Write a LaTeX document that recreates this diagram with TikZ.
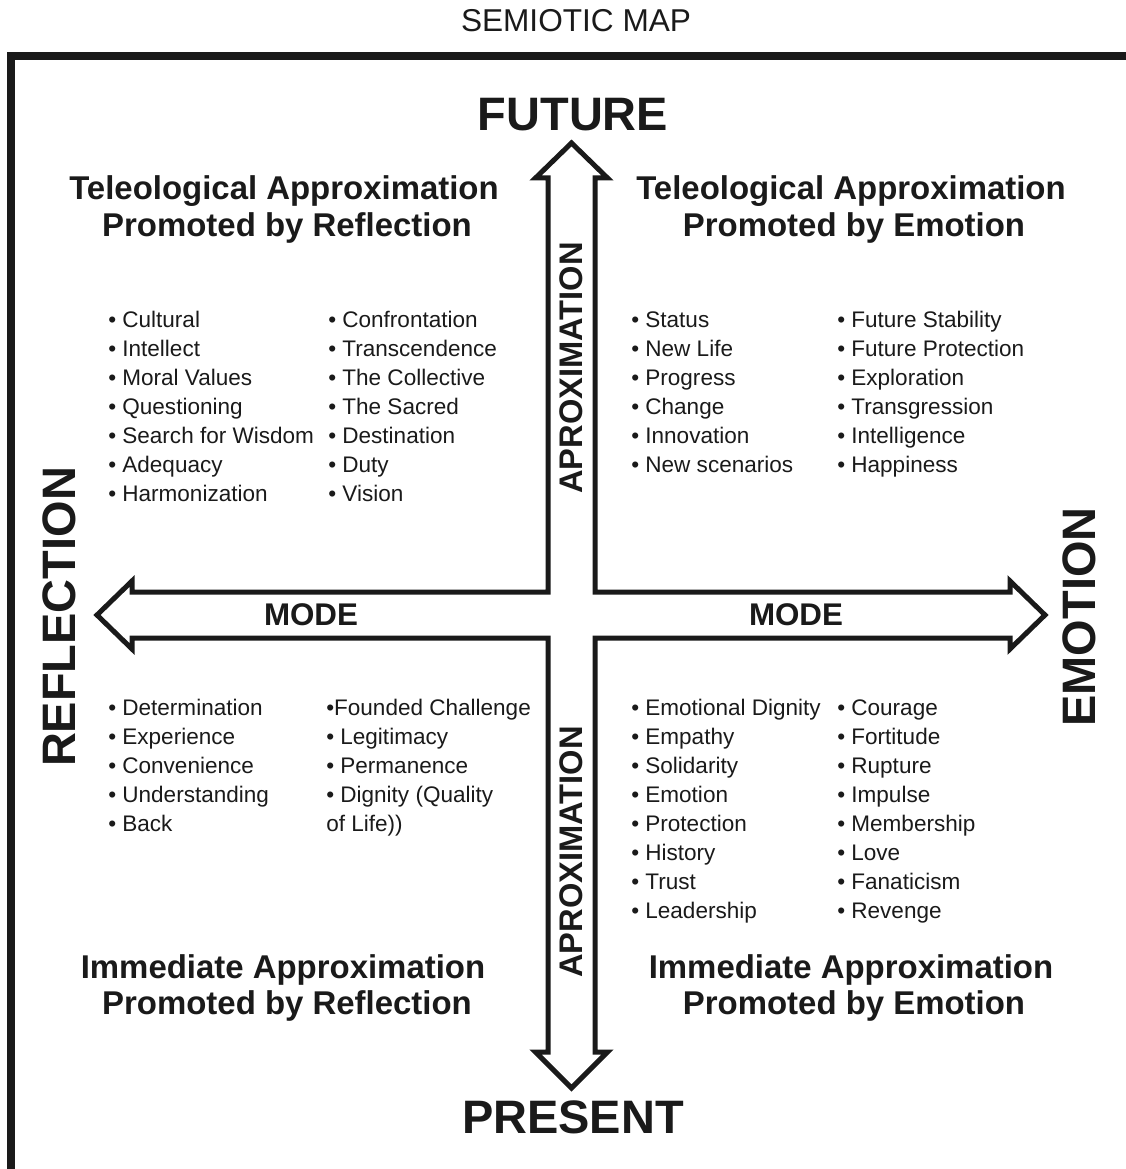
\documentclass[tikz,border=0pt]{standalone}
\usepackage{fontspec}
\setmainfont{Liberation Sans}
\definecolor{ink}{HTML}{1A1A1A}
\begin{document}
\begin{tikzpicture}[x=0.75pt,y=-0.75pt,
  head/.style={font=\fontsize{24.7}{30}\selectfont\bfseries,text=ink,inner sep=0,anchor=base},
  pole/.style={font=\fontsize{35.2}{40}\selectfont\bfseries,text=ink,inner sep=0},
  modelbl/.style={font=\fontsize{23.5}{28}\selectfont\bfseries,text=ink,inner sep=0},
  axislbl/.style={font=\fontsize{24.5}{28}\selectfont\bfseries,text=ink,inner sep=0,rotate=90},
  item/.style={font=\fontsize{16.9}{20}\selectfont,text=ink,inner sep=0,anchor=base west},
  titlelbl/.style={font=\fontsize{23.7}{28}\selectfont,text=ink,inner sep=0},
  framepen/.style={draw=ink,line width=6pt},
  arrowpen/.style={draw=ink,line width=3.75pt,line join=miter}]
\useasboundingbox (0,0) rectangle (1126,1169);
\clip (0,0) rectangle (1126,1169);
\fill[white] (0,0) rectangle (1126,1169);
% frame
\draw[framepen] (11,1190) -- (11,56) -- (1150,56);
% title
\node[titlelbl] (title) at (576,21) {SEMIOTIC MAP};
% cross-shaped double arrow
\draw[arrowpen] (571.5,143) -- (607.5,178) -- (595,178) -- (595,592) -- (1010,592) -- (1010,581)
  -- (1045,615) -- (1010,649) -- (1010,638) -- (595,638) -- (595,1052) -- (607.5,1052)
  -- (571.5,1088) -- (535.5,1052) -- (548,1052) -- (548,638) -- (132,638) -- (132,649)
  -- (97,615) -- (132,581) -- (132,592) -- (548,592) -- (548,178) -- (535.5,178) -- cycle;
% poles
\node[pole] (future) at (573,115) {FUTURE};
\node[pole] (present) at (573,1117) {PRESENT};
\node[pole,rotate=90] (reflection) at (59,617) {REFLECTION};
\node[pole,rotate=90] (emotion) at (1079,617) {EMOTION};
% axis labels
\node[modelbl] (modeL) at (311,615) {MODE};
\node[modelbl] (modeR) at (796,615) {MODE};
\node[axislbl] (aproxT) at (571,368) {APROXIMATION};
\node[axislbl] (aproxB) at (571,852) {APROXIMATION};
% quadrant headings
\node[head] (hTL1) at (284,200) {Teleological Approximation};
\node[head] (hTL2) at (287,237) {Promoted by Reflection};
\node[head] (hTR1) at (851,200) {Teleological Approximation};
\node[head] (hTR2) at (854,237) {Promoted by Emotion};
\node[head] (hBL1) at (283,978) {Immediate Approximation};
\node[head] (hBL2) at (287,1014) {Promoted by Reflection};
\node[head] (hBR1) at (851,978) {Immediate Approximation};
\node[head] (hBR2) at (854,1014) {Promoted by Emotion};
% lists
\foreach \t [count=\i from 0] in {Cultural,Intellect,Moral Values,Questioning,Search for Wisdom,Adequacy,Harmonization}
  \node[item] (tlA\i) at (108,{327+29*\i}) {• \t};
\foreach \t [count=\i from 0] in {Confrontation,Transcendence,The Collective,The Sacred,Destination,Duty,Vision}
  \node[item] (tlB\i) at (328,{327+29*\i}) {• \t};
\foreach \t [count=\i from 0] in {Status,New Life,Progress,Change,Innovation,New scenarios}
  \node[item] (trA\i) at (631,{327+29*\i}) {• \t};
\foreach \t [count=\i from 0] in {Future Stability,Future Protection,Exploration,Transgression,Intelligence,Happiness}
  \node[item] (trB\i) at (837,{327+29*\i}) {• \t};
\foreach \t [count=\i from 0] in {Determination,Experience,Convenience,Understanding,Back}
  \node[item] (blA\i) at (108,{715+29*\i}) {• \t};
\foreach \t [count=\i from 0] in {•Founded Challenge,• Legitimacy,• Permanence,• Dignity (Quality,of Life))}
  \node[item] (blB\i) at (326,{715+29*\i}) {\t};
\foreach \t [count=\i from 0] in {Emotional Dignity,Empathy,Solidarity,Emotion,Protection,History,Trust,Leadership}
  \node[item] (brA\i) at (631,{715+29*\i}) {• \t};
\foreach \t [count=\i from 0] in {Courage,Fortitude,Rupture,Impulse,Membership,Love,Fanaticism,Revenge}
  \node[item] (brB\i) at (837,{715+29*\i}) {• \t};
\end{tikzpicture}
\end{document}
